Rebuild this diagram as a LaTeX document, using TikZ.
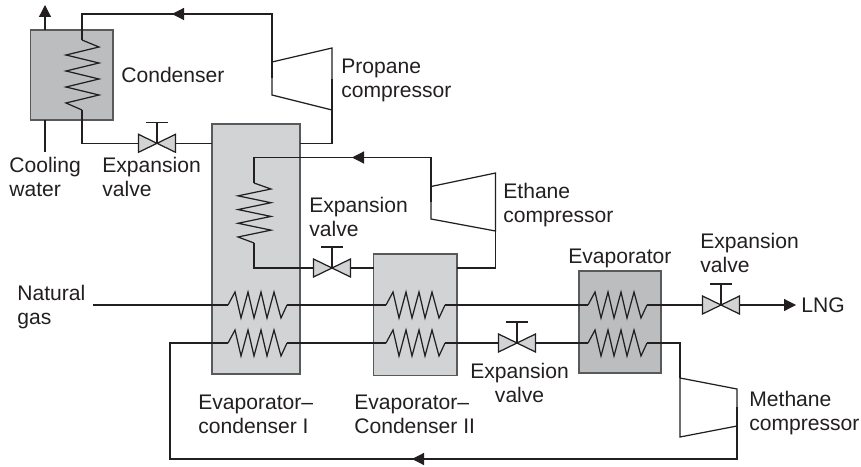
\documentclass[tikz,border=0pt]{standalone}
\usepackage{fontspec}
\setmainfont{Liberation Sans}
\usetikzlibrary{arrows.meta,positioning,calc,shapes.geometric}

\definecolor{inkgray}{HTML}{231F20}
\definecolor{edgegray}{HTML}{58595B}
\definecolor{palegray}{HTML}{D1D3D4}
\definecolor{midgray}{HTML}{BBBDBF}

\begin{document}
\begin{tikzpicture}[
    x=0.02cm,y=-0.02cm,
    >={Triangle[length=0.24cm,width=0.24cm]},
    vessel/.style={rectangle,draw=edgegray,line width=1.1pt,inner sep=0pt,outer sep=0pt},
    pipe/.style={draw=inkgray,line width=.7pt,line join=miter},
    flow/.style={->,draw=inkgray,line width=.7pt},
    tag/.style={font=\fontsize{12}{13.6}\selectfont,text=inkgray,inner sep=0pt,align=left,anchor=base west},
    hcoil/.pic={
        \draw[pipe] (0,0)--(7,-13)--(13,13)--(20,-13)--(26,13)--(33,-13)--(39,13)--(46,-13)--(53,13)--(59,0);
        \coordinate (-in) at (0,0);
        \coordinate (-out) at (59,0);},
    vcoil/.pic={
        \draw[pipe] (0,0)--(17,7)--(-16,15)--(17,23)--(-16,31)--(17,39)--(-16,47)--(17,55)--(-16,63)--(0,70);
        \coordinate (-in) at (0,0);
        \coordinate (-out) at (0,70);},
    valve/.pic={
        \draw[draw=inkgray,line width=.7pt,fill=palegray] (-18.5,-9)--(18.5,9)--(18.5,-9)--(-18.5,9)--cycle;
        \draw[pipe,line width=.9pt] (0,0)--(0,-21) (-11,-21)--(11,-21);}]
% vessels
\node[vessel,fill=midgray,minimum width=1.65cm,minimum height=1.8cm] (condenser) at (71.75,75) {};
\node[vessel,fill=palegray,minimum width=1.76cm,minimum height=5cm] (evapI) at (256,249) {};
\node[vessel,fill=palegray,minimum width=1.67cm,minimum height=2.43cm] (evapII) at (415.25,314.75) {};
\node[vessel,fill=midgray,minimum width=1.63cm,minimum height=2.04cm] (evaporator) at (620,321.7) {};
% compressors
\draw[pipe] (272,62)--(332,48)--(332,110)--(272,95)--cycle;
\draw[pipe] (431,186.5)--(495.5,173)--(495.5,231)--(431,219)--cycle;
\draw[pipe] (680,378)--(737,389)--(737,426)--(680,437)--cycle;
\coordinate (propaneIn) at (272,78);
\coordinate (propaneOut) at (332,79);
\coordinate (ethaneIn) at (431,202);
\coordinate (ethaneOut) at (495.5,202);
\coordinate (methaneIn) at (680,378);
\coordinate (methaneOut) at (737,407);
% coils
\pic (condCoil) at (82,40) {vcoil};
\pic[yscale=.857] (evapCoil) at (254,183) {vcoil};
\pic (gasI) at (228,305) {hcoil};
\pic (gasII) at (386,305) {hcoil};
\pic (gasIII) at (588,305) {hcoil};
\pic (mixI) at (228,343) {hcoil};
\pic (mixII) at (386,343) {hcoil};
\pic (mixIII) at (588,343) {hcoil};
% junctions
\coordinate (valveA) at (157,143.3);
\coordinate (valveB) at (332,268);
\coordinate (valveC) at (517,343);
\coordinate (valveD) at (721,305);
\coordinate (propaneTop) at (272,14);
\coordinate (propaneFlow) at (184,14);
\coordinate (propaneTip) at (172,14);
\coordinate (ethaneTop) at (431,157.5);
\coordinate (ethaneFlow) at (364,157.5);
\coordinate (ethaneTip) at (352,157.5);
\coordinate (methaneBase) at (737,459);
\coordinate (methaneFlow) at (424,459);
\coordinate (methaneTip) at (412,459);
\coordinate (mixStart) at (170,459);
\coordinate (gasStart) at (93,305);
\coordinate (lngTip) at (796,305);
\coordinate (waterIn) at (45,152);
\coordinate (waterOut) at (45,5);
% labels
\node[tag] (condenserTag) at (121,83) {Condenser};
\node[tag] (propaneTag) at (341,97.5) {Propane\\compressor};
\node[tag] (coolingTag) at (9,196.5) {Cooling\\water};
\node[tag] (expansionA) at (102,196.5) {Expansion\\valve};
\node[tag] (expansionB) at (309,236.5) {Expansion\\valve};
\node[tag] (ethaneTag) at (503,222.5) {Ethane\\compressor};
\node[tag] (gasTag) at (17,324.5) {Natural\\gas};
\node[tag] (evapITag) at (198,433) {Evaporator--\\condenser I};
\node[tag] (evapIITag) at (354,433) {Evaporator--\\Condenser II};
\node[tag,align=center] (expansionC) at (470,402) {Expansion\\valve};
\node[tag] (evaporatorTag) at (568,263) {Evaporator};
\node[tag] (expansionD) at (700,272.5) {Expansion\\valve};
\node[tag] (lng) at (801,312.5) {LNG};
\node[tag] (methaneTag) at (749,430) {Methane\\compressor};
% propane loop
\draw[pipe] (propaneIn)--(propaneTop)--(condCoil-in |- propaneTop)--(condCoil-in);
\draw[flow] (propaneFlow)--(propaneTip);
\draw[pipe] (condCoil-out)|-(valveA)--(evapI.west |- valveA);
\draw[pipe] (propaneOut)|-(evapI.east |- valveA);
% ethane loop
\draw[pipe] (ethaneIn)--(ethaneTop)--(evapCoil-in |- ethaneTop)--(evapCoil-in);
\draw[flow] (ethaneFlow)--(ethaneTip);
\draw[pipe] (evapCoil-out)|-(valveB)--(evapII.west |- valveB);
\draw[pipe] (ethaneOut)|-(evapII.east |- valveB);
% natural gas line
\draw[pipe] (gasStart)--(gasI-in) (gasI-out)--(gasII-in) (gasII-out)--(gasIII-in) (gasIII-out)--(valveD);
\draw[flow] (valveD)--(lngTip);
% methane loop
\draw[pipe] (mixI-out)--(mixII-in) (mixII-out)--(valveC)--(mixIII-in);
\draw[pipe] (mixIII-out)-|(methaneIn);
\draw[pipe] (methaneOut)|-(methaneBase)--(mixStart)|-(mixI-in);
\draw[flow] (methaneFlow)--(methaneTip);
% cooling water
\draw[pipe] (waterIn)--(condenser.south -| waterIn);
\draw[flow] (condenser.north -| waterOut)--(waterOut);
% valves
\foreach \v in {valveA,valveB,valveC,valveD}{
    \pic at (\v) {valve};
}
\useasboundingbox (0,0) rectangle (861,466);
\end{tikzpicture}
\end{document}
